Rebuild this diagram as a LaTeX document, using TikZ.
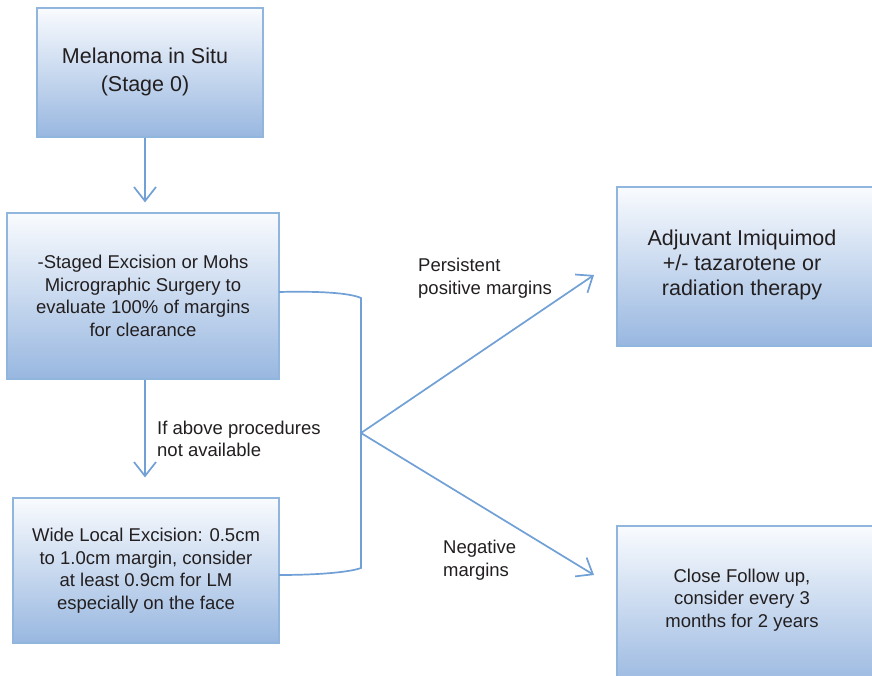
\documentclass[tikz,border=0pt]{standalone}
\usepackage{fontspec}
\setmainfont{Liberation Sans}
\usetikzlibrary{arrows.meta}
\definecolor{arr}{RGB}{112,160,214}
\definecolor{bord}{RGB}{145,182,222}
\definecolor{gtop}{RGB}{249,251,254}
\definecolor{gbot}{RGB}{152,183,224}
\definecolor{txt}{RGB}{35,31,32}
\begin{document}
\begin{tikzpicture}[x=1pt,y=-1pt,
 box/.style={draw=bord, line width=1.2pt, top color=gtop, bottom color=gbot, rectangle, align=center, text=txt, inner sep=0pt},
 big/.style={font=\fontsize{21.5}{28}\selectfont},
 small/.style={font=\fontsize{18.5}{22.5}\selectfont},
 conn/.style={draw=arr, line width=1.7pt},
 arrow/.style={conn, -{Straight Barb[length=14pt,width=22pt]}},
 lbl/.style={small, text=txt, align=left, anchor=west, inner sep=0pt},
 btxt/.style={text=txt, align=center, inner sep=0pt}
]
\clip (0,0) rectangle (872,676);
\fill[white] (0,0) rectangle (872,676);

\node[box, minimum width=226pt, minimum height=129pt] (box1) at (150,72.5) {};
\node[btxt, big] (box1t) at (145,72) {Melanoma in Situ\\(Stage 0)};
\node[box, small, minimum width=272pt, minimum height=166pt] (box2) at (143,296) {-Staged Excision or Mohs\\Micrographic Surgery to\\evaluate 100\% of margins\\for clearance};
\node[box, small, minimum width=266pt, minimum height=145pt] (box3) at (146,570.5) {Wide Local Excision: 0.5cm\\to 1.0cm margin, consider\\at least 0.9cm for LM\\especially on the face};
\node[box, minimum width=263pt, minimum height=159pt] (box4) at (748.5,266.5) {};
\node[btxt, font=\fontsize{21.5}{25}\selectfont] (box4t) at (742,265) {Adjuvant Imiquimod\\+/- tazarotene or\\radiation therapy};
\node[box, minimum width=263pt, minimum height=164pt] (box5) at (748.5,608) {};
\node[btxt, small] (box5t) at (742,600) {Close Follow up,\\consider every 3\\months for 2 years};

\coordinate (ax) at (145,0);
\draw[arrow, shorten >=10pt] (box1.south -| ax) -- (box2.north -| ax);
\draw[arrow, shorten >=20pt] (box2.south -| ax) -- (box3.north -| ax);

\coordinate (bt) at (279,292);
\coordinate (bb) at (279,575);
\coordinate (hub) at (361,433);
\coordinate (tipA) at (594,275);
\coordinate (tipB) at (594,575);
\draw[conn] (bt) .. controls (320,291) and (350,293) .. (361,298) -- (361,568) .. controls (350,572) and (320,575) .. (bb);
\draw[arrow] (hub) -- (tipA);
\draw[arrow] (hub) -- (tipB);

\node[lbl] (l1) at (418,278) {Persistent\\positive margins};
\node[lbl] (l2) at (443,560) {Negative\\margins};
\node[lbl] (l3) at (157,439) {If above procedures\\not available};
\end{tikzpicture}
\end{document}
